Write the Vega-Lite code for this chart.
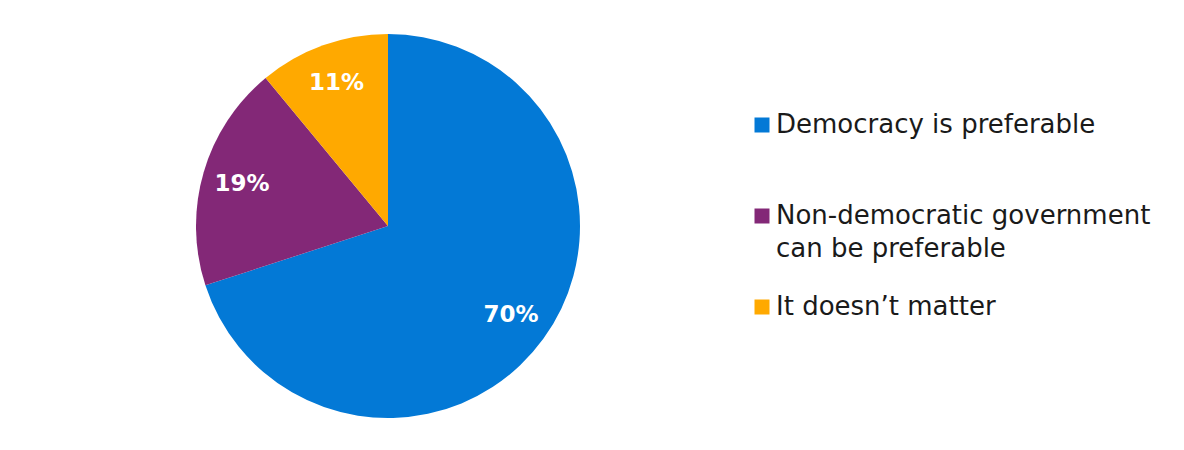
{
  "$schema": "https://vega.github.io/schema/vega-lite/v6.json",
  "width": 776,
  "height": 436,
  "padding": {"left": 0, "top": 8, "right": 0, "bottom": 0},
  "background": "white",
  "config": {"view": {"stroke": null}, "style": {"guide-label": {"lineHeight": 33}}},
  "data": {"values": [
    {"answer": "Democracy is preferable", "share": 70, "order": 1, "label": "70%"},
    {"answer": "Non-democratic government can be preferable", "share": 19, "order": 2, "label": "19%"},
    {"answer": "It doesn’t matter", "share": 11, "order": 3, "label": "11%"}
  ]},
  "encoding": {
    "theta": {"field": "share", "type": "quantitative", "stack": true},
    "order": {"field": "order", "type": "quantitative"},
    "color": {
      "field": "answer",
      "type": "nominal",
      "sort": null,
      "scale": {
        "domain": ["Democracy is preferable", "Non-democratic government can be preferable", "It doesn’t matter"],
        "range": ["#0379D6", "#832877", "#FFA900"]
      },
      "legend": {
        "title": null,
        "orient": "none",
        "legendX": 749,
        "legendY": 104,
        "padding": 0,
        "symbolType": "square",
        "symbolSize": 225,
        "symbolStrokeWidth": 0,
        "labelFont": "DejaVu Sans",
        "labelFontSize": 26,
        "labelColor": "#1a1a1a",
        "labelLimit": 600,
        "labelOffset": 1,
        "gridAlign": "all",
        "rowPadding": 32,
        "labelExpr": "datum.label == 'Non-democratic government can be preferable' ? ['Non-democratic government', 'can be preferable'] : datum.label"
      }
    }
  },
  "layer": [
    {"mark": {"type": "arc", "outerRadius": 192}},
    {
      "mark": {"type": "text", "radius": 152, "font": "DejaVu Sans", "fontWeight": "bold", "fontSize": 23},
      "encoding": {"text": {"field": "label"}, "color": {"value": "white"}}
    }
  ]
}
